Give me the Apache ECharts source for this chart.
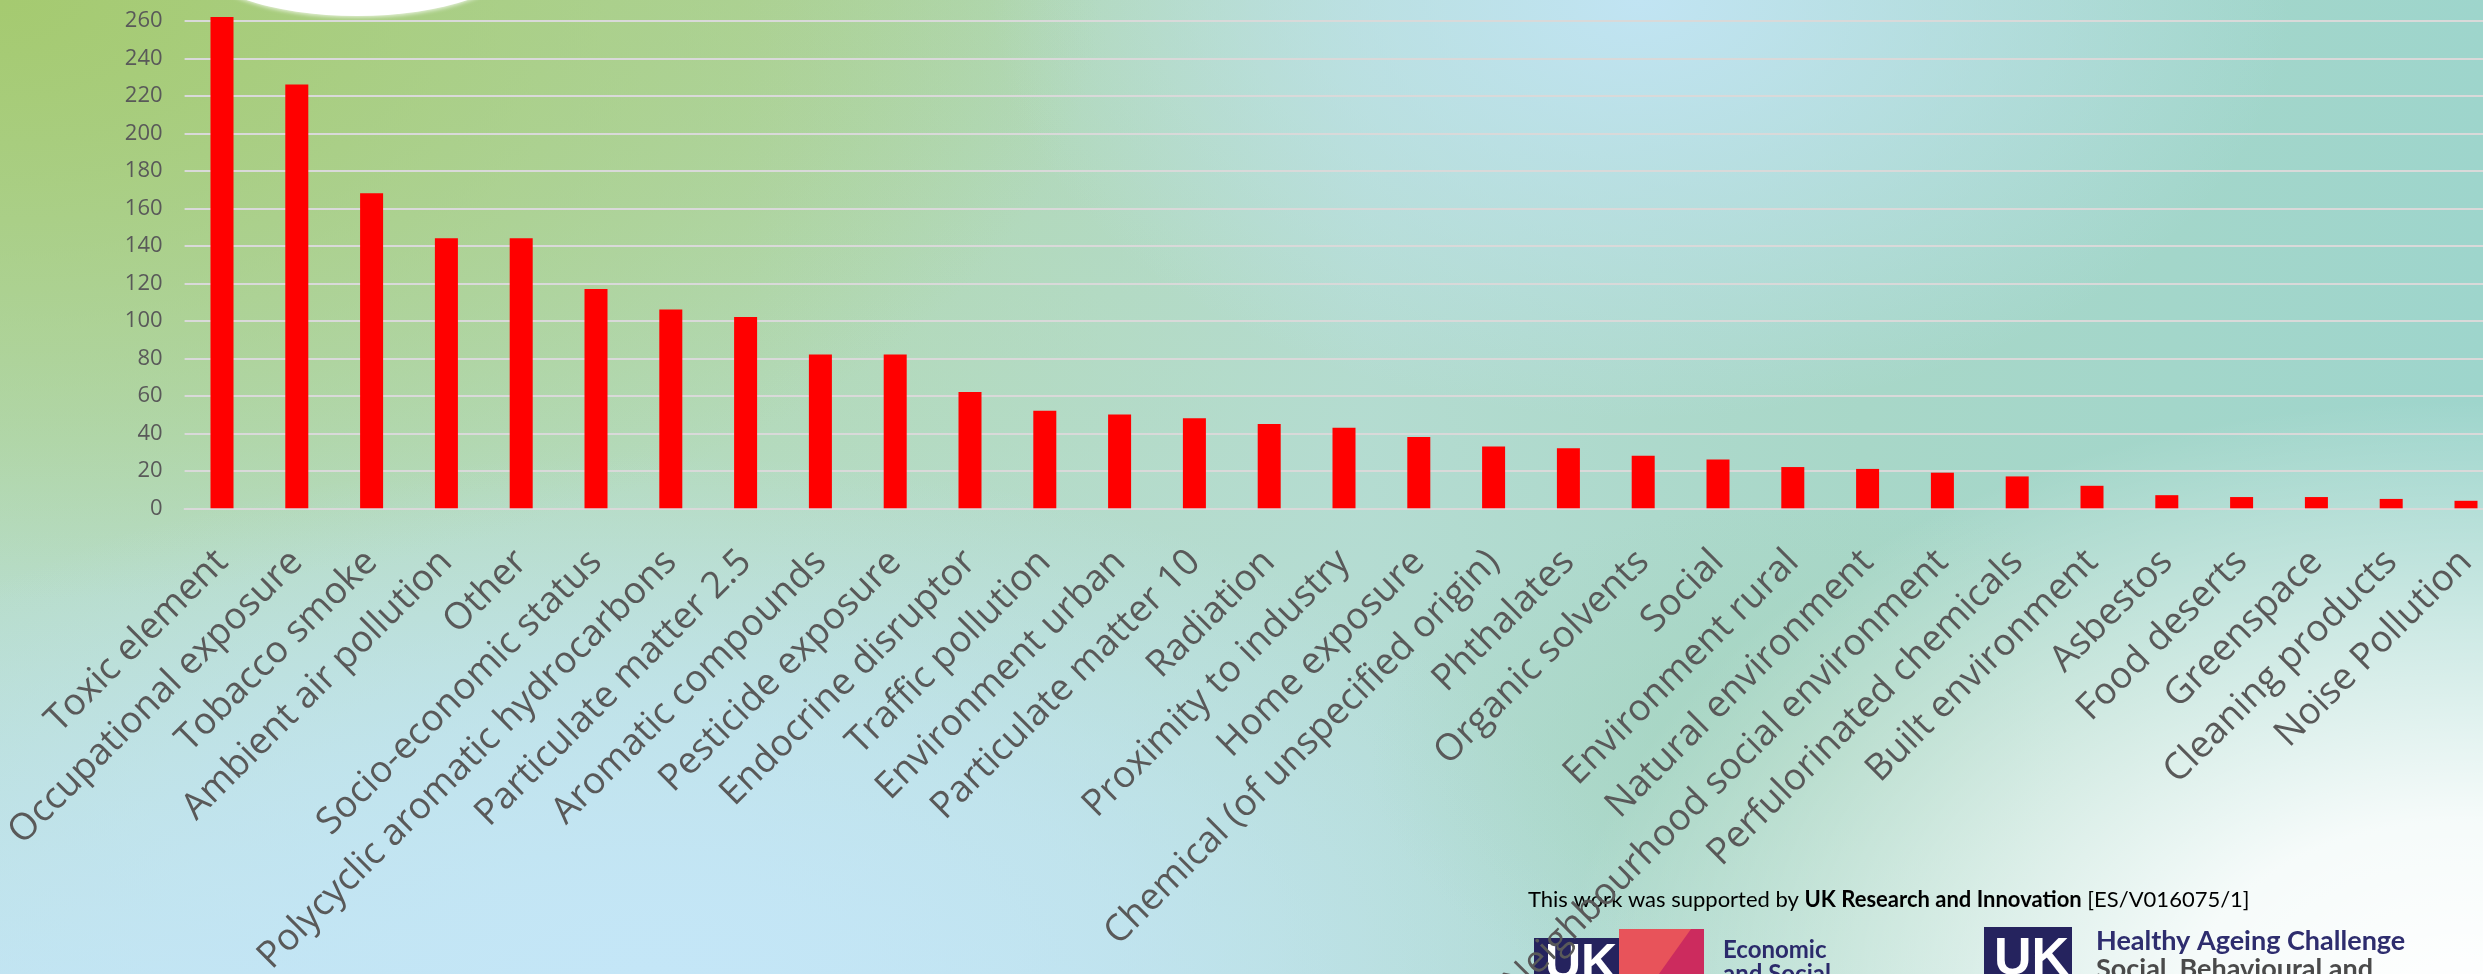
<!DOCTYPE html>
<html><head><meta charset="utf-8">
<script src="https://cdn.jsdelivr.net/npm/echarts@6/dist/echarts.min.js"></script>
<style>
html,body{margin:0;padding:0;width:2483px;height:974px;overflow:hidden;}
#bg{position:absolute;left:0;top:0;width:2483px;height:974px;
background:
 radial-gradient(ellipse 900px 600px at 2460px 1000px, rgba(255,255,255,1) 0%, rgba(255,255,255,0.9) 30%, rgba(255,255,255,0) 100%),
 radial-gradient(ellipse 450px 260px at 1820px 760px, rgba(164,211,190,0.8) 0%, rgba(164,211,190,0) 100%),
 radial-gradient(ellipse 650px 420px at 1640px 0px, rgba(193,228,243,1) 0%, rgba(193,228,243,0) 100%),
 radial-gradient(ellipse 1000px 520px at 650px 974px, rgba(196,230,247,1) 0%, rgba(196,230,247,0.6) 50%, rgba(196,230,247,0) 100%),
 radial-gradient(ellipse 1100px 600px at 0px 0px, rgba(165,202,112,1) 0%, rgba(168,204,120,0.5) 55%, rgba(168,204,120,0) 100%),
 linear-gradient(90deg, rgba(180,220,214,0) 0%, rgba(180,220,214,0) 30%, rgba(180,220,212,0.85) 55%, rgba(168,215,200,1) 75%, rgba(158,213,204,1) 100%),
 linear-gradient(180deg, #aed4a0 0%, #b4dabc 45%, #c0e3ee 100%);
}
#blob{position:absolute;left:199px;top:-96px;width:316px;height:112px;border-radius:50%;background:#fff;box-shadow:0 0 4px 1px rgba(255,255,255,0.8);}
#chart{position:absolute;left:0;top:0;width:2483px;height:974px;}
</style></head>
<body><div id="bg"><div id="blob"></div></div><div id="chart"></div>
<script>
const categories = ["Toxic element","Occupational exposure","Tobacco smoke","Ambient air pollution","Other","Socio-economic status","Polycyclic aromatic hydrocarbons","Particulate matter 2.5","Aromatic compounds","Pesticide exposure","Endocrine disruptor","Traffic pollution","Environment urban","Particulate matter 10","Radiation","Proximity to industry","Home exposure","Chemical (of unspecified origin)","Phthalates","Organic solvents","Social","Environment rural","Natural environment","Neighbourhood social environment","Perfulorinated chemicals","Built environment","Asbestos","Food deserts","Greenspace","Cleaning products","Noise Pollution"];
const counts = [262,226,168,144,144,117,106,102,82,82,62,52,50,48,45,43,38,33,32,28,26,22,21,19,17,12,7,6,6,5,4];
const yAxisMin = 0;
const yAxisMax = 280;
const yAxisStep = 20;
const creditParts = ["This work was supported by ", "UK Research and Innovation", " [ES/V016075/1]"];
const logoTexts = ["Economic", "and Social", "Healthy Ageing Challenge", "Social, Behavioural and", "UK"];

const chart = echarts.init(document.getElementById('chart'), null, {renderer:'canvas'});
const navy = '#25235e';
chart.setOption({
  backgroundColor: 'transparent',
  animation: false,
  grid: {left: 184.6, right: -20.4, top: -16.7, bottom: 465.7, containLabel: false, outerBoundsMode: 'none'},
  xAxis: {
    type: 'category', data: categories,
    axisLine: {show: true, lineStyle: {color: '#d9d9d9', width: 2}},
    axisTick: {show: false},
    axisLabel: {interval: 0, rotate: 45, margin: 48, fontSize: 37, color: '#595959', fontFamily: 'Open Sans', hideOverlap: false}
  },
  yAxis: {
    type: 'value', min: yAxisMin, max: yAxisMax, interval: yAxisStep,
    axisLine: {show: false}, axisTick: {show: false},
    axisLabel: {margin: 22, fontSize: 22, color: '#595959', fontFamily: 'Open Sans'},
    splitLine: {lineStyle: {color: '#d9d9d9', width: 2}}
  },
  series: [{type: 'bar', data: counts, barWidth: 23, itemStyle: {color: '#ff0000'}}],
  graphic: [
    {type: 'text', z: -1, left: 1528, top: 889, style: {
      text: '{n|' + creditParts[0] + '}{b|' + creditParts[1] + '}{n|' + creditParts[2] + '}',
      rich: {n: {fontSize: 22, fontFamily: 'Lato', color: '#1b2a5c'}, b: {fontSize: 22, fontFamily: 'Lato', fontWeight: 'bold', color: '#1b2a5c'}}
    }},
    {type: 'rect', z: -1, shape: {x: 1534, y: 938, width: 85, height: 50}, style: {fill: navy}},
    {type: 'text', z: -1, left: 1545, top: 940, style: {text: logoTexts[4], fontSize: 50, fontWeight: 'bold', fontFamily: 'Liberation Sans', fill: '#ffffff'}},
    {type: 'rect', z: -1, shape: {x: 1619, y: 929, width: 85, height: 60}, style: {fill: '#cc2b5e'}},
    {type: 'polygon', z: -1, shape: {points: [[1619,929],[1691,929],[1619,1030]]}, style: {fill: '#e8535a'}},
    {type: 'text', z: -1, left: 1723, top: 938, style: {text: logoTexts[0], fontSize: 24, fontWeight: 'bold', fontFamily: 'Lato', fill: '#2b2a6b'}},
    {type: 'text', z: -1, left: 1723, top: 962, style: {text: logoTexts[1], fontSize: 24, fontWeight: 'bold', fontFamily: 'Lato', fill: '#2b2a6b'}},
    {type: 'rect', z: -1, shape: {x: 1984, y: 927, width: 88, height: 60}, style: {fill: navy}},
    {type: 'text', z: -1, left: 1994, top: 934, style: {text: logoTexts[4], fontSize: 52, fontWeight: 'bold', fontFamily: 'Liberation Sans', fill: '#ffffff'}},
    {type: 'text', z: -1, left: 2096, top: 928, style: {text: logoTexts[2], fontSize: 27, fontWeight: 'bold', fontFamily: 'Lato', fill: '#2e2d6e'}},
    {type: 'text', z: -1, left: 2096, top: 956, style: {text: logoTexts[3], fontSize: 27, fontWeight: 'bold', fontFamily: 'Lato', fill: '#4a4a4a'}}
  ]
});
</script>
</body></html>
